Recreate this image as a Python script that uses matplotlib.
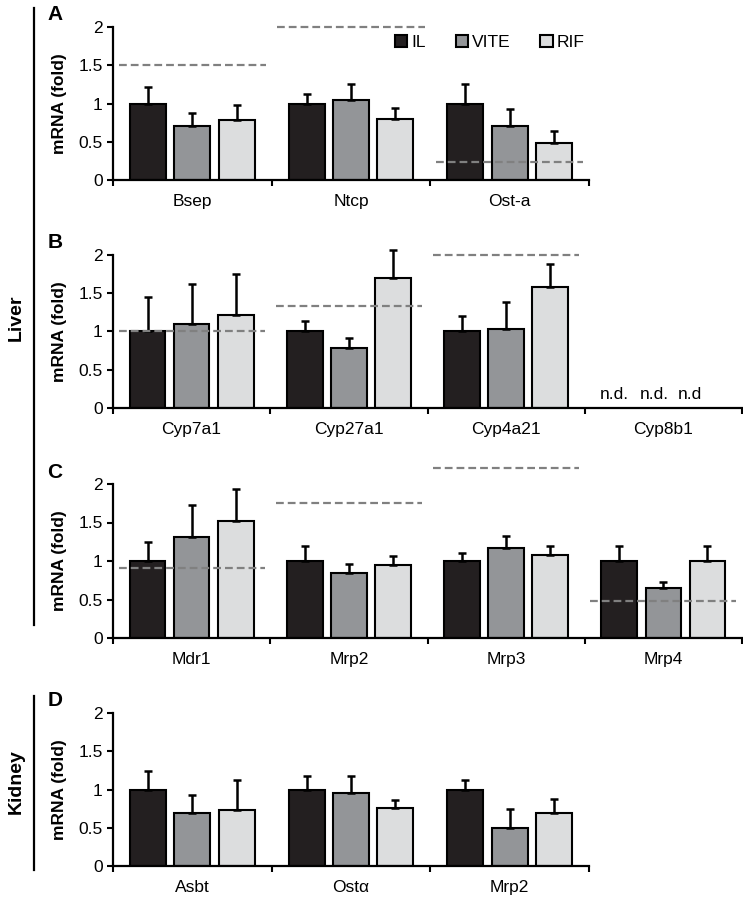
import matplotlib
matplotlib.use("Agg")
import matplotlib.pyplot as plt
from matplotlib.patches import Patch

plt.rcParams['font.family'] = ['Liberation Sans', 'DejaVu Sans']

series = ["IL", "VITE", "RIF"]
colors = ["#231f20", "#939598", "#dcddde"]

# Panel A
a_genes = ["Bsep", "Ntcp", "Ost-a"]
a_mean = [[1.00, 1.00, 1.00], [0.70, 1.04, 0.71], [0.79, 0.80, 0.48]]
a_top = [[1.21, 1.12, 1.25], [0.87, 1.25, 0.93], [0.98, 0.94, 0.64]]
a_ref = [1.50, 2.00, 0.23]

# Panel B
b_genes = ["Cyp7a1", "Cyp27a1", "Cyp4a21", "Cyp8b1"]
b_mean = [[1.00, 1.00, 1.00, None], [1.10, 0.79, 1.03, None], [1.21, 1.70, 1.58, None]]
b_top = [[1.45, 1.14, 1.20, None], [1.62, 0.92, 1.38, None], [1.75, 2.06, 1.88, None]]
b_ref = [1.00, 1.33, 2.00, None]
nd_labels = ["n.d.", "n.d.", "n.d"]

# Panel C
c_genes = ["Mdr1", "Mrp2", "Mrp3", "Mrp4"]
c_mean = [[1.00, 1.00, 1.00, 1.00], [1.31, 0.84, 1.17, 0.65], [1.52, 0.95, 1.08, 1.00]]
c_top = [[1.25, 1.19, 1.10, 1.19], [1.73, 0.96, 1.33, 0.73], [1.94, 1.06, 1.20, 1.19]]
c_ref = [0.91, 1.75, 2.21, 0.48]

# Panel D
d_genes = ["Asbt", "Ostα", "Mrp2"]
d_mean = [[1.00, 1.00, 1.00], [0.69, 0.96, 0.50], [0.73, 0.76, 0.69]]
d_top = [[1.24, 1.18, 1.13], [0.93, 1.17, 0.74], [1.13, 0.86, 0.87]]
d_ref = [None, None, None]

W, H = 743, 899
fig = plt.figure(figsize=(W / 100, H / 100), dpi=100)


def add_ax(l, r, t, b):
    return fig.add_axes([l / W, 1 - b / H, (r - l) / W, (b - t) / H])


TICK_FS = 12.5
BAR_W = 0.227
OFF = 0.28


def draw_panel(ax, genes, means, tops, refs, letter, letter_xy):
    n = len(genes)
    for s in range(3):
        for g in range(n):
            m = means[s][g]
            if m is None:
                continue
            x = g + 0.5 + (s - 1) * OFF
            ax.bar(x, m, width=BAR_W, color=colors[s], edgecolor="black",
                   linewidth=1.5, zorder=2)
            eb = ax.errorbar(x, m, yerr=[[0], [tops[s][g] - m]], fmt="none",
                             ecolor="black", elinewidth=1.8, capsize=3.2,
                             capthick=1.8, zorder=3)
            for art in eb.lines[1]:
                art.set_clip_on(False)
            for art in eb.lines[2]:
                art.set_clip_on(False)
    for g in range(n):
        r = refs[g]
        if r is None:
            continue
        ax.plot([g + 0.5 - 0.465, g + 0.5 + 0.465], [r, r], color="#808080",
                lw=1.6, dashes=(3.5, 1.8), zorder=4, clip_on=False)
    ax.set_xlim(0, n)
    ax.set_ylim(0, 2)
    ax.set_yticks([0, 0.5, 1, 1.5, 2])
    ax.set_yticklabels(["0", "0.5", "1", "1.5", "2"], fontsize=TICK_FS)
    ax.set_xticks([g + 0.5 for g in range(n)])
    ax.set_xticklabels(genes, fontsize=TICK_FS)
    ax.set_xticks(list(range(n + 1)), minor=True)
    ax.tick_params(axis="x", which="major", length=0, pad=10)
    ax.tick_params(axis="x", which="minor", length=4, width=1.5, direction="out")
    ax.tick_params(axis="y", length=4.5, width=1.5, pad=3)
    for sp in ["top", "right"]:
        ax.spines[sp].set_visible(False)
    for sp in ["left", "bottom"]:
        ax.spines[sp].set_linewidth(1.6)
    fig.text(letter_xy[0] / W, 1 - letter_xy[1] / H, letter, fontsize=15,
             fontweight="bold", ha="center", va="center")
    pos = ax.get_position()
    fig.text(60 / W, pos.y0 + pos.height / 2, "mRNA (fold)", fontsize=12.5,
             fontweight="bold", rotation=90, ha="center", va="center")


axA = add_ax(113, 589, 27, 180)
axB = add_ax(113, 742, 255, 408)
axC = add_ax(113, 742, 484, 638)
axD = add_ax(113, 589, 713, 866)

draw_panel(axA, a_genes, a_mean, a_top, a_ref, "A", (55, 15))
draw_panel(axB, b_genes, b_mean, b_top, b_ref, "B", (55, 243))
draw_panel(axC, c_genes, c_mean, c_top, c_ref, "C", (55, 472))
draw_panel(axD, d_genes, d_mean, d_top, d_ref, "D", (55, 701))

for x, lab in zip([3.19, 3.44, 3.67], nd_labels):
    axB.text(x, 0.12, lab, fontsize=TICK_FS, ha="center", va="baseline")

handles = [Patch(facecolor=c, edgecolor="black", linewidth=1.5) for c in colors]
axA.legend(handles, series, loc="center", bbox_to_anchor=(0.792, 0.9),
           ncol=3, frameon=False, fontsize=12.5, handlelength=0.7,
           handleheight=0.7, handletextpad=0.25, columnspacing=1.7)

# Tissue labels with bracket lines
fig.add_artist(plt.Line2D([34 / W, 34 / W], [1 - 8 / H, 1 - 625 / H],
                          color="black", lw=1.6))
fig.text(16 / W, 1 - 318 / H, "Liver", fontsize=14, fontweight="bold",
         rotation=90, ha="center", va="center")
fig.add_artist(plt.Line2D([34 / W, 34 / W], [1 - 696 / H, 1 - 870 / H],
                          color="black", lw=1.6))
fig.text(16 / W, 1 - 782 / H, "Kidney", fontsize=14, fontweight="bold",
         rotation=90, ha="center", va="center")

fig.savefig("out.png", dpi=100)
